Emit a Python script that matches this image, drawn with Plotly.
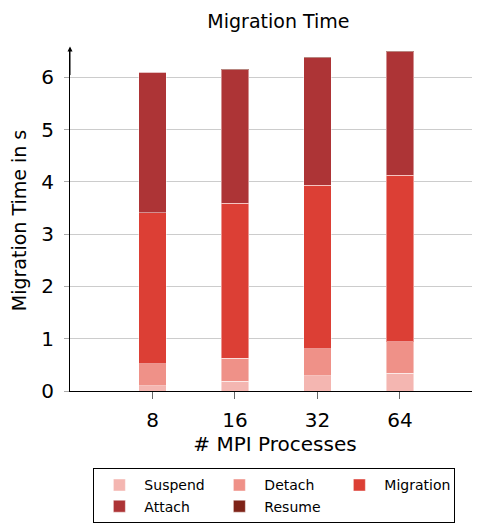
import plotly.graph_objects as go

categories = ["8", "16", "32", "64"]
suspend = [0.105, 0.187, 0.296, 0.34]
detach = [0.42, 0.44, 0.51, 0.605]
migration = [2.885, 2.96, 3.125, 3.185]
attach = [2.68, 2.56, 2.44, 2.36]
resume = [0.01, 0.01, 0.02, 0.01]

series_names = ["Suspend", "Detach", "Migration", "Attach", "Resume"]
series_values = [suspend, detach, migration, attach, resume]
series_colors = ["#f4b6b1", "#ef9188", "#dc3f35", "#ad3436", "#7e2318"]

FONT = "DejaVu Sans"

fig = go.Figure()
for name, vals, col in zip(series_names, series_values, series_colors):
    fig.add_trace(go.Bar(
        x=categories, y=vals, name=name,
        marker=dict(color=col, line=dict(color="rgba(255,255,255,0.45)", width=1)),
        width=0.335,
    ))

fig.update_layout(
    barmode="stack",
    width=472, height=521,
    margin=dict(l=61.5, r=0, t=42, b=137.5, autoexpand=False),
    plot_bgcolor="white", paper_bgcolor="white",
    font=dict(family=FONT, color="black"),
    title=dict(text="Migration Time", x=0.5729, xanchor="center",
               y=0.988, yanchor="top", font=dict(size=19)),
    xaxis=dict(
        type="category", range=[-1, 3.97],
        showline=True, linecolor="black", linewidth=1,
        ticks="outside", ticklen=7, tickcolor="#666666", tickwidth=1.2,
        tickfont=dict(size=20), ticklabelstandoff=4,
        title=dict(text="# MPI Processes", font=dict(size=20), standoff=2),
        showgrid=False, zeroline=False,
    ),
    yaxis=dict(
        range=[0, 6.52], dtick=1,
        showline=True, linecolor="black", linewidth=1,
        ticks="outside", ticklen=5, tickcolor="#aaaaaa",
        tickfont=dict(size=20), ticklabelstandoff=6,
        showgrid=True, gridcolor="#cccccc", gridwidth=1,
        zeroline=False,
        title=dict(text="Migration Time in s", font=dict(size=19), standoff=10),
    ),
    legend=dict(
        orientation="h", x=0.057, xanchor="left", y=-0.227, yanchor="top",
        bordercolor="black", borderwidth=1,
        entrywidth=65, entrywidthmode="pixels",
        font=dict(size=14), traceorder="normal",
        itemwidth=40,
    ),
)

fig.add_annotation(
    x=0, xref="paper", y=1.01, yref="paper",
    ax=0, ay=30, axref="pixel", ayref="pixel",
    text="", showarrow=True, arrowhead=2, arrowsize=1, arrowwidth=1, arrowcolor="black",
)

fig.write_html("out.html")
